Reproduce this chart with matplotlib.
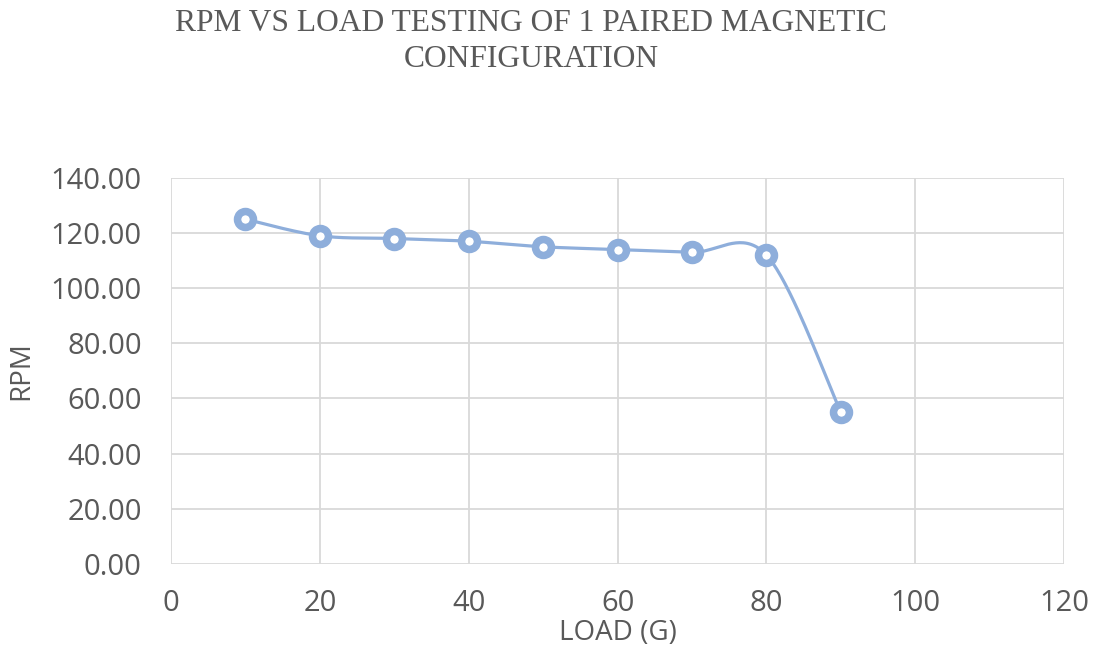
import numpy as np
import matplotlib
matplotlib.use("Agg")
import matplotlib.pyplot as plt

# load in grams and measured speed
load = [10, 20, 30, 40, 50, 60, 70, 80, 90]
rpm = [125, 119, 118, 117, 115, 114, 113, 112, 55]

line_color = "#8eaedb"
text_color = "#595959"
grid_color = "#d9d9d9"


def smooth_curve(x, y, n=40):
    # Catmull-Rom style bezier through the points (like spreadsheet smoothing)
    x = np.asarray(x, float)
    y = np.asarray(y, float)
    px = np.concatenate([[x[0]], x, [x[-1]]])
    py = np.concatenate([[y[0]], y, [y[-1]]])
    xs, ys = [], []
    t = np.linspace(0, 1, n)
    for i in range(1, len(px) - 2):
        p0 = np.array([px[i], py[i]])
        p3 = np.array([px[i + 1], py[i + 1]])
        p1 = p0 + (np.array([px[i + 1], py[i + 1]]) - np.array([px[i - 1], py[i - 1]])) / 6
        p2 = p3 - (np.array([px[i + 2], py[i + 2]]) - np.array([px[i], py[i]])) / 6
        b = ((1 - t) ** 3)[:, None] * p0 + (3 * (1 - t) ** 2 * t)[:, None] * p1 \
            + (3 * (1 - t) * t ** 2)[:, None] * p2 + (t ** 3)[:, None] * p3
        xs.extend(b[:, 0])
        ys.extend(b[:, 1])
    return xs, ys


fig = plt.figure(figsize=(10.96, 6.49), dpi=100)
ax = fig.add_axes([0.156, 0.131, 0.815, 0.595])

sx, sy = smooth_curve(load, rpm)
ax.plot(sx, sy, color=line_color, lw=2.3, zorder=3)
ax.plot(load, rpm, "o", color=line_color, markersize=11.5, markeredgewidth=5.4,
        markerfacecolor="white", markeredgecolor=line_color, zorder=4)

ax.set_xlim(0, 120)
ax.set_ylim(0, 140)
ax.set_xticks(range(0, 121, 20))
ax.set_yticks(range(0, 141, 20))
ax.set_yticklabels(["%.2f" % v for v in range(0, 141, 20)])

ax.grid(True, color=grid_color, lw=1.3)
ax.set_axisbelow(True)
for s in ax.spines.values():
    s.set_visible(False)
ax.tick_params(length=0, labelsize=21, labelcolor=text_color)
ax.tick_params(axis="y", pad=21)
ax.tick_params(axis="x", pad=18)
for lab in ax.get_xticklabels() + ax.get_yticklabels():
    lab.set_fontfamily("Open Sans")

ax.set_xlabel("LOAD (G)", fontsize=20, color=text_color, family="Open Sans", labelpad=1)
ax.set_ylabel("RPM", fontsize=20, color=text_color, family="Open Sans", labelpad=11)

fig.text(0.4845, 0.986, "RPM VS LOAD TESTING OF 1 PAIRED MAGNETIC\nCONFIGURATION",
         ha="center", va="top", fontsize=22.7, color=text_color,
         family="Liberation Serif", linespacing=1.32)

fig.savefig("out.png", dpi=100)
